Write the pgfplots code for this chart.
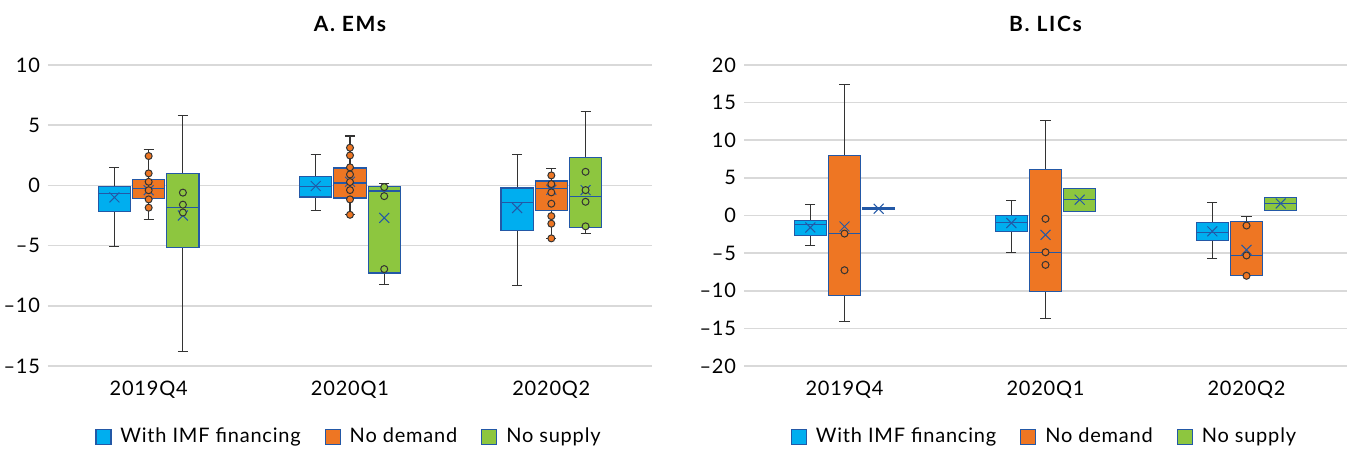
\documentclass[border=0pt]{standalone}
\usepackage{pgfplots}
\pgfplotsset{compat=1.18}
\usepgfplotslibrary{statistics}
\usepackage{fontspec}
\setmainfont{Lato}[LetterSpace=4]
\newfontfamily\titlefont{Lato}[LetterSpace=8]
\definecolor{cblue}{HTML}{00AEEF}
\definecolor{corange}{HTML}{EE7623}
\definecolor{cgreen}{HTML}{8DC63F}
\definecolor{cedge}{HTML}{2358A6}
\definecolor{cgrid}{HTML}{D9D9D9}
\definecolor{cwhisk}{HTML}{333333}
\newcommand{\bx}[8]{%
\addplot[forget plot, fill=#7, draw=cedge, line width=0.6pt,
  boxplot/draw direction=y,
  boxplot prepared={draw position=#1, lower whisker=#2, lower quartile=#3,
  median=#4, upper quartile=#5, upper whisker=#6, box extend=0.16, whisker extend=0.05},
  boxplot/every whisker/.style={draw=cwhisk, line width=0.55pt},
  boxplot/every median/.style={draw=cedge, line width=0.6pt}] coordinates {};
\addplot[forget plot, only marks, mark=x, mark size=3.5pt, mark options={draw=cedge, line width=0.5pt}] coordinates {(#1,#8)};
}
\pgfplotsset{
  mystyle/.style={
    scale only axis, height=150.5pt,
    xmin=-0.5, xmax=2.5,
    xtick={0,1,2}, xticklabels={2019Q4,2020Q1,2020Q2},
    axis line style={draw=none}, tick style={draw=none},
    ymajorgrids, grid style={cgrid, line width=0.8pt},
    font=\fontsize{10pt}{12pt}\selectfont,
    xticklabel style={anchor=base, yshift=-14.5pt},
    yticklabel style={anchor=east, xshift=-0.5pt},
    title style={at={(0.5,1)}, anchor=base, yshift=10.6pt, font=\fontsize{10.5pt}{12pt}\titlefont\bfseries},
    legend columns=3,
    legend style={draw=none, at={(0.5,-0.236)}, anchor=center,
      font=\fontsize{10pt}{12pt}\selectfont,
      /tikz/every even column/.append style={column sep=10pt}},
    legend cell align=left,
    clip=false,
  },
  sq/.style={legend image code/.code={%
    \fill[#1] (0pt,-3.75pt) rectangle (7.5pt,3.75pt);
    \draw[cedge, line width=0.6pt] (0pt,-3.75pt) rectangle (7.5pt,3.75pt);
    \path (10pt,0pt);}},
}
\begin{document}
\begin{tikzpicture}
\useasboundingbox (0,0) rectangle (674pt,225.5pt);
% ---------------- A. EMs
\begin{axis}[mystyle, at={(24pt,42.5pt)}, anchor=south west, width=302pt,
  ymin=-15, ymax=10, ytick={-15,-10,-5,0,5,10}, yticklabels={–15,–10,–5,0,5,10},
  title={A. EMs}]
\addlegendimage{sq=cblue}\addlegendentry{With IMF financing}
\addlegendimage{sq=corange}\addlegendentry{No demand}
\addlegendimage{sq=cgreen}\addlegendentry{No supply}
% 2019Q4
\bx{-0.17}{-5.1}{-2.2}{-0.7}{-0.1}{1.5}{cblue}{-1.0}
\bx{0}{-2.8}{-1.08}{-0.25}{0.5}{3.0}{corange}{-0.4}
\bx{0.17}{-13.8}{-5.15}{-1.85}{1.0}{5.8}{cgreen}{-2.5}
% 2020Q1
\bx{0.83}{-2.1}{-0.97}{-0.08}{0.72}{2.6}{cblue}{-0.05}
\bx{1}{-2.44}{-1.05}{0.2}{1.44}{4.1}{corange}{0.3}
\bx{1.17}{-8.25}{-7.28}{-0.47}{-0.1}{0.17}{cgreen}{-2.7}
% 2020Q2
\bx{1.83}{-8.3}{-3.74}{-1.44}{-0.22}{2.55}{cblue}{-1.88}
\bx{2}{-4.4}{-2.1}{-0.25}{0.36}{1.44}{corange}{-0.36}
\bx{2.17}{-3.96}{-3.49}{-0.89}{2.35}{6.17}{cgreen}{-0.39}
% inner points
\addplot[forget plot, only marks, mark=*, mark size=1.75pt, mark options={fill=corange, draw=cwhisk, line width=0.5pt}] coordinates {
(0,2.44) (0,1.0) (0,0.3) (0,-0.4) (0,-1.16) (0,-1.85)
(1,3.13) (1,2.49) (1,1.5) (1,0.91) (1,0.28) (1,-0.39) (1,-1.16) (1,-2.44)
(2,0.83) (2,0.11) (2,-0.58) (2,-1.52) (2,-2.55) (2,-3.18) (2,-4.4)};
\addplot[forget plot, only marks, mark=*, mark size=1.75pt, mark options={fill=cgreen, draw=cwhisk, line width=0.5pt}] coordinates {
(0.17,-0.6) (0.17,-1.6) (0.17,-2.25)
(1.17,-0.14) (1.17,-0.89) (1.17,-6.95)
(2.17,1.13) (2.17,-0.39) (2.17,-1.36) (2.17,-3.4)};
\end{axis}
% ---------------- B. LICs
\begin{axis}[mystyle, at={(372pt,42.5pt)}, anchor=south west, width=301.5pt,
  ymin=-20, ymax=20, ytick={-20,-15,-10,-5,0,5,10,15,20}, yticklabels={–20,–15,–10,–5,0,5,10,15,20},
  title={B. LICs}]
\addlegendimage{sq=cblue}\addlegendentry{With IMF financing}
\addlegendimage{sq=corange}\addlegendentry{No demand}
\addlegendimage{sq=cgreen}\addlegendentry{No supply}
% 2019Q4
\bx{-0.17}{-3.99}{-2.66}{-1.15}{-0.66}{1.42}{cblue}{-1.59}
\bx{0}{-14.08}{-10.67}{-2.35}{7.93}{17.45}{corange}{-1.46}
\bx{0.17}{0.75}{0.75}{0.9}{1.0}{1.0}{cgreen}{0.9}
% 2020Q1
\bx{0.83}{-4.88}{-2.09}{-0.89}{0}{2.04}{cblue}{-1.0}
\bx{1}{-13.73}{-10.15}{-4.88}{6.07}{12.62}{corange}{-2.57}
\bx{1.17}{0.58}{0.58}{2.13}{3.63}{3.63}{cgreen}{2.1}
% 2020Q2
\bx{1.83}{-5.71}{-3.32}{-2.22}{-0.89}{1.73}{cblue}{-2.1}
\bx{2}{-8.01}{-8.01}{-5.31}{-0.75}{-0.1}{corange}{-4.56}
\bx{2.17}{0.71}{0.71}{1.6}{2.35}{2.35}{cgreen}{1.6}
\addplot[forget plot, only marks, mark=*, mark size=1.75pt, mark options={fill=corange, draw=cwhisk, line width=0.5pt}] coordinates {
(0,-2.4) (0,-7.27)
(1,-0.44) (1,-4.88) (1,-6.56)
(2,-1.33) (2,-5.31) (2,-8.01)};
\end{axis}
\end{tikzpicture}
\end{document}
